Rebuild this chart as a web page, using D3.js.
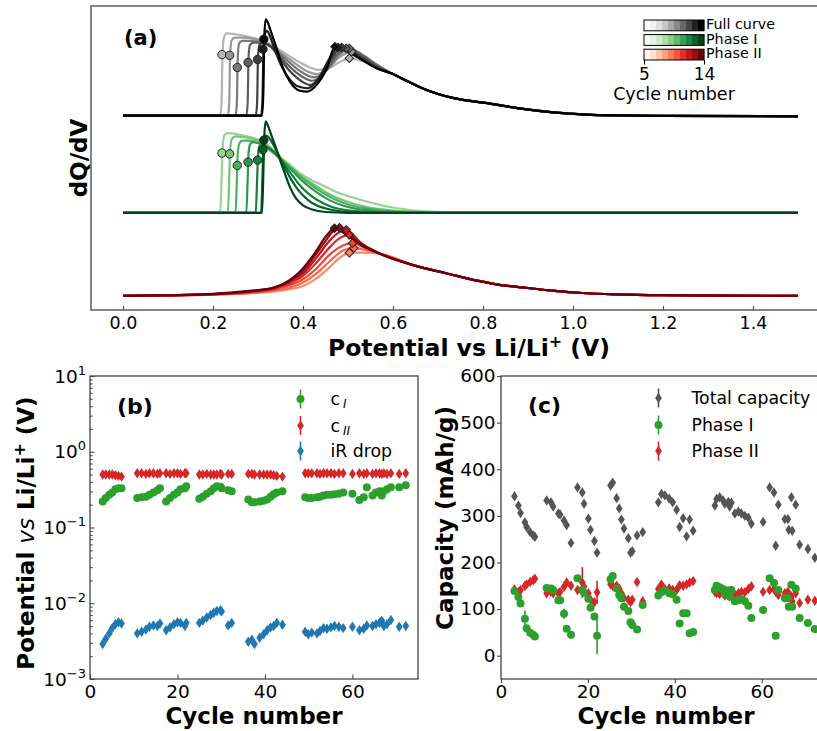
<!DOCTYPE html>
<html>
<head>
<meta charset="utf-8">
<script src="https://cdn.jsdelivr.net/npm/d3@7"></script>
<style>
  body { margin: 0; background: #fff; }
  svg { font-family: "DejaVu Sans", sans-serif; }
</style>
</head>
<body>
<div id="vis"></div>
<script>
// ---------- panel (a) : dQ/dV curves, 7 cycles (light = early, dark = late) ----------
var potentialTicks = [0, 0.2, 0.4, 0.6, 0.8, 1.0, 1.2, 1.4];
var cycleRange = [5, 14];
var colorbarNames = ["Full curve", "Phase I", "Phase II"];

// c_I onset potential of each curve and height of the circle marker
var onsetV = [0.219, 0.236, 0.253, 0.277, 0.298, 0.310, 0.312];
var onsetFullH = [0.735, 0.727, 0.58, 0.64, 0.675, 0.80, 0.92];
var onsetPhaseIH = [0.72, 0.71, 0.57, 0.61, 0.635, 0.76, 0.875];
// c_II peak of each curve (diamond markers)
var peakFullV = [0.503, 0.508, 0.503, 0.496, 0.486, 0.478, 0.471];
var peakFullH = [0.69, 0.77, 0.81, 0.81, 0.82, 0.82, 0.83];
var peakPhaseIIV = [0.503, 0.513, 0.510, 0.503, 0.496, 0.481, 0.470];
var peakPhaseIIH = [0.52, 0.575, 0.635, 0.735, 0.795, 0.82, 0.815];

var fullCurves = [
  [[0,0],[0.216,0],[0.219,0.15],[0.221,0.7],[0.224,0.93],[0.23,0.99],[0.25,0.98],[0.28,0.95],[0.30,0.92],[0.33,0.85],[0.36,0.75],[0.39,0.65],[0.415,0.58],[0.438,0.55],[0.46,0.58],[0.48,0.64],[0.503,0.69],[0.53,0.66],[0.56,0.60]],
  [[0,0],[0.233,0],[0.236,0.15],[0.238,0.7],[0.241,0.9],[0.248,0.94],[0.27,0.94],[0.30,0.91],[0.33,0.84],[0.36,0.72],[0.39,0.60],[0.41,0.53],[0.43,0.50],[0.455,0.56],[0.48,0.70],[0.508,0.77],[0.53,0.72],[0.56,0.62]],
  [[0,0],[0.25,0],[0.253,0.15],[0.255,0.7],[0.258,0.87],[0.265,0.90],[0.28,0.90],[0.30,0.89],[0.33,0.83],[0.36,0.69],[0.39,0.55],[0.425,0.46],[0.455,0.56],[0.48,0.73],[0.503,0.81],[0.53,0.74],[0.56,0.63]],
  [[0,0],[0.274,0],[0.277,0.15],[0.279,0.7],[0.282,0.85],[0.29,0.88],[0.30,0.88],[0.32,0.86],[0.34,0.78],[0.36,0.65],[0.39,0.50],[0.42,0.42],[0.45,0.53],[0.475,0.73],[0.496,0.81],[0.53,0.73],[0.56,0.62]],
  [[0,0],[0.295,0],[0.298,0.15],[0.300,0.7],[0.303,0.85],[0.31,0.88],[0.318,0.87],[0.33,0.82],[0.35,0.68],[0.37,0.54],[0.39,0.44],[0.415,0.37],[0.44,0.47],[0.465,0.70],[0.486,0.82],[0.52,0.74],[0.56,0.60]],
  [[0,0],[0.307,0],[0.310,0.2],[0.312,0.75],[0.315,0.98],[0.32,1.02],[0.327,0.95],[0.335,0.83],[0.35,0.62],[0.37,0.44],[0.39,0.35],[0.41,0.33],[0.435,0.45],[0.46,0.70],[0.478,0.82],[0.51,0.75],[0.56,0.58]],
  [[0,0],[0.309,0],[0.312,0.3],[0.314,0.95],[0.317,1.16],[0.322,1.12],[0.327,1.04],[0.342,0.80],[0.356,0.57],[0.371,0.41],[0.393,0.30],[0.408,0.29],[0.43,0.37],[0.453,0.57],[0.471,0.83],[0.49,0.79],[0.519,0.71],[0.564,0.57]]
];
var fullTail = [[0.60,0.50],[0.63,0.42],[0.665,0.33],[0.70,0.26],[0.735,0.21],[0.81,0.15],[0.88,0.088],[0.956,0.04],[1.03,0.012],[1.1,0.002],[1.2,-0.003],[1.5,-0.008]];

var phaseICurves = [
  [[0,0],[0.216,0],[0.219,0.4],[0.221,0.75],[0.225,0.93],[0.232,0.96],[0.26,0.94],[0.29,0.90],[0.31,0.86],[0.33,0.78],[0.349,0.67],[0.37,0.58],[0.39,0.49],[0.42,0.39],[0.445,0.33],[0.47,0.26],[0.52,0.17],[0.56,0.11],[0.593,0.07],[0.63,0.04],[0.667,0.02],[0.75,0.003],[0.8,0],[1.5,0]],
  [[0,0],[0.233,0],[0.236,0.4],[0.238,0.75],[0.242,0.89],[0.25,0.92],[0.27,0.91],[0.30,0.87],[0.32,0.80],[0.349,0.665],[0.37,0.57],[0.39,0.47],[0.41,0.39],[0.43,0.32],[0.46,0.22],[0.50,0.13],[0.55,0.06],[0.6,0.028],[0.66,0.01],[0.72,0],[1.5,0]],
  [[0,0],[0.25,0],[0.253,0.4],[0.255,0.72],[0.259,0.84],[0.265,0.87],[0.28,0.87],[0.30,0.84],[0.32,0.78],[0.349,0.655],[0.37,0.56],[0.39,0.46],[0.41,0.37],[0.43,0.29],[0.46,0.19],[0.50,0.10],[0.55,0.045],[0.6,0.018],[0.66,0.005],[0.7,0],[1.5,0]],
  [[0,0],[0.274,0],[0.277,0.4],[0.279,0.72],[0.283,0.83],[0.29,0.85],[0.30,0.84],[0.31,0.82],[0.33,0.75],[0.349,0.65],[0.37,0.54],[0.39,0.43],[0.41,0.33],[0.43,0.25],[0.46,0.15],[0.50,0.07],[0.55,0.028],[0.6,0.01],[0.65,0],[1.5,0]],
  [[0,0],[0.295,0],[0.298,0.4],[0.300,0.68],[0.303,0.8],[0.31,0.82],[0.32,0.80],[0.33,0.76],[0.34,0.71],[0.349,0.65],[0.36,0.57],[0.375,0.46],[0.39,0.35],[0.41,0.24],[0.43,0.16],[0.46,0.08],[0.5,0.03],[0.55,0.01],[0.6,0],[1.5,0]],
  [[0,0],[0.307,0],[0.310,0.45],[0.312,0.78],[0.316,0.93],[0.322,0.92],[0.33,0.86],[0.34,0.76],[0.349,0.66],[0.36,0.54],[0.375,0.39],[0.39,0.27],[0.41,0.16],[0.43,0.09],[0.46,0.04],[0.5,0.01],[0.55,0],[1.5,0]],
  [[0,0],[0.309,0],[0.312,0.5],[0.314,0.92],[0.317,1.10],[0.322,1.05],[0.33,0.93],[0.34,0.78],[0.349,0.635],[0.36,0.47],[0.371,0.31],[0.385,0.17],[0.40,0.09],[0.42,0.04],[0.45,0.01],[0.5,0],[1.5,0]]
];

var phaseIICurves = [
  [[0,0],[0.1,0.005],[0.2,0.015],[0.28,0.03],[0.33,0.05],[0.37,0.08],[0.40,0.12],[0.43,0.21],[0.46,0.35],[0.48,0.45],[0.503,0.52],[0.53,0.52]],
  [[0,0],[0.1,0.005],[0.2,0.015],[0.28,0.035],[0.33,0.06],[0.37,0.10],[0.40,0.16],[0.43,0.27],[0.46,0.42],[0.49,0.55],[0.513,0.575],[0.54,0.55]],
  [[0,0],[0.1,0.006],[0.2,0.018],[0.28,0.04],[0.33,0.07],[0.37,0.13],[0.40,0.20],[0.43,0.33],[0.46,0.50],[0.49,0.61],[0.510,0.635],[0.54,0.57]],
  [[0,0],[0.1,0.006],[0.2,0.02],[0.28,0.045],[0.33,0.08],[0.37,0.15],[0.40,0.24],[0.43,0.40],[0.46,0.59],[0.48,0.69],[0.503,0.735],[0.535,0.61]],
  [[0,0],[0.1,0.007],[0.2,0.02],[0.28,0.05],[0.33,0.09],[0.37,0.17],[0.40,0.27],[0.43,0.46],[0.46,0.67],[0.48,0.765],[0.496,0.795],[0.53,0.63]],
  [[0,0],[0.1,0.007],[0.2,0.022],[0.28,0.055],[0.33,0.09],[0.37,0.18],[0.40,0.30],[0.43,0.51],[0.45,0.66],[0.467,0.78],[0.481,0.82],[0.52,0.66]],
  [[0,0],[0.1,0.008],[0.2,0.025],[0.28,0.06],[0.33,0.09],[0.37,0.19],[0.393,0.29],[0.423,0.49],[0.453,0.73],[0.470,0.815],[0.50,0.72],[0.53,0.61]]
];
var phaseIITail = [[0.57,0.51],[0.645,0.37],[0.72,0.27],[0.79,0.18],[0.84,0.13],[0.90,0.095],[0.96,0.06],[1.02,0.035],[1.1,0.018],[1.2,0.008],[1.35,0.003],[1.5,0]];

// ---------- panel (b) : fitted parameters vs cycle ----------
var cyclesB = [2.9,3.6,4.4,5.1,5.8,6.5,7.2, 10.8,11.8,12.8,13.6,14.5,15.4,16.0, 17.4,18.3,19.2,20.0,20.7,21.7,22.0,
  25.0,25.8,26.7,27.6,28.3,29.0,29.8,30.1, 31.6,32.4, 36.2,37.0,37.6,38.8,39.7,40.5,41.3,42.0,42.7,44.0,
  49.2,49.9,50.7,51.9,52.6,53.4,54.2,55.1,55.9,56.9,57.9, 60.0,61.6,62.6,63.3,64.6,65.4,66.2,66.7,67.2,67.9,68.8,70.7,72.2];
var cI = [.22,.245,.27,.29,.32,.33,.33, .245,.25,.255,.27,.29,.31,.33, .22,.245,.27,.29,.32,.33,.35,
  .24,.255,.28,.30,.33,.35,.345,.33, .31,.30, .235,.215,.215,.22,.225,.235,.255,.275,.29,.30,
  .25,.245,.245,.25,.255,.265,.27,.27,.275,.28,.29, .28,.23,.25,.34,.265,.29,.30,.265,.30,.32,.34,.34,.36];
var cII = [.50,.50,.50,.50,.49,.48,.47, .52,.52,.51,.52,.52,.51,.52, .52,.51,.52,.52,.51,.52,.52,
  .50,.50,.51,.50,.50,.50,.51,.50, .51,.51, .51,.51,.50,.50,.50,.50,.50,.49,.48,.47,
  .52,.52,.52,.52,.51,.52,.52,.52,.51,.52,.52, .51,.52,.51,.52,.51,.52,.52,.51,.52,.51,.52,.51,.52];
var iRdrop = [.0029,.0034,.0040,.0047,.0053,.0056,.0054, .0040,.0042,.0045,.0049,.0051,.0050,.0054, .0044,.0048,.0053,.0056,.0055,.0050,.0055,
  .0055,.0059,.0065,.0070,.0075,.0079,.0081,.0078, .0051,.0055, .0031,.0033,.0029,.0035,.0039,.0044,.0048,.0050,.0055,.0052,
  .0042,.0039,.0041,.0040,.0043,.0047,.0046,.0048,.0050,.0049,.0047, .0049,.0044,.0046,.0051,.0050,.0053,.0055,.0059,.0050,.0053,.0060,.0049,.0050];
var logTicks = [1e-3, 1e-2, 1e-1, 1e0, 1e1];
var logTickExp = ["\u22123", "\u22122", "\u22121", "0", "1"];

// ---------- panel (c) : capacities vs cycle ----------
var cyclesC = [3.1,4.0,4.5,5.5,5.9,6.7,7.4,7.8, 10.5,11.5,12.0,13.2,13.6,14.5,15.1,16.1, 17.6,18.7,19.1,20.1,20.6,21.5,22.1,
  25.2,25.7,26.6,27.2,27.7,28.3,29.3,29.8,30.2, 31.3,32.6, 36.2,36.9,37.7,38.7,39.5,40.4,41.1,41.9,42.7,43.4,44.2,
  49.2,49.6,50.3,51.1,51.5,52.3,52.6,53.0,53.8,54.6,55.3,56.1,56.9,57.6, 60.3,61.8,62.8,63.2,63.8,65.3,66.0,66.2,66.8,67.0,67.8,68.7,70.6,72.2];
var totalCap = [342,322,306,286,276,265,258,255, 333,329,320,305,303,290,280,242, 361,350,326,294,270,246,221,
  365,371,338,316,292,273,252,221,224, 258,265, 329,347,344,337,329,313,276,295,256,292,268,
  322,336,340,333,326,330,320,328,305,309,305,300,296,283, 287,361,350,236,324,293,293,270,340,268,324,238,229,210];
var phaseICap = [139,126,112,79,59,49,45,41, 145,144,141,119,119,90,58,45, 166,141,135,122,103,84,43,
  164,171,144,130,123,105,96,72,66, 56,109, 129,136,140,134,132,120,69,91,91,48,51,
  141,150,147,143,133,140,127,141,117,119,121,117,107,81, 98,166,156,43,141,123,123,105,152,105,144,81,70,57];
var phaseIICap = [142,137,141,150,153,158,162,165, 134,137,134,134,137,148,157,150, 141,157,148,134,120,115,136,
  153,150,150,144,134,124,120,115,120, 158,117, 143,153,143,144,141,141,151,150,153,157,160,
  137,134,132,134,129,136,127,134,131,134,137,136,143,149, 137,141,143,137,130,134,137,127,127,117,134,113,120,118];
var phaseIErr = [3,3,4,18,3,3,3,3, 3,3,3,3,3,11,3,3, 3,3,3,3,3,3,40,
  3,3,3,3,3,3,3,3,3, 3,3, 3,3,3,3,3,3,3,3,3,3,3,
  3,3,3,3,3,3,3,3,3,3,3,3,3,3, 3,3,3,3,3,3,3,3,3,3,3,3,3,3];
var phaseIIErr = [3,3,3,3,3,3,3,3, 3,3,3,3,3,3,3,3, 3,33,3,3,3,3,25,
  3,3,3,3,3,3,3,3,3, 3,3, 3,3,3,3,3,3,3,3,3,3,3,
  3,3,3,3,3,3,3,3,3,3,3,3,3,3, 3,3,3,3,3,3,3,3,3,3,3,3,3,3];
var capTicks = [0, 100, 200, 300, 400, 500, 600];
var cycleTicks = [0, 20, 40, 60];

// ---------------------------------------------------------------
var W = 817, H = 731;
var spine = "#444";
var green = "#2ca02c", red = "#d62728", blue = "#1f77b4", grey = "#555555";

var svg = d3.select("#vis").append("svg").attr("width", W).attr("height", H);
svg.append("rect").attr("width", W).attr("height", H).attr("fill", "#fff");
var defs = svg.append("defs");

function clip(id, x, y, w, h) {
  defs.append("clipPath").attr("id", id).append("rect")
    .attr("x", x).attr("y", y).attr("width", w).attr("height", h);
  return "url(#" + id + ")";
}

function styleAxis(g, fs) {
  g.select(".domain").remove();
  g.selectAll(".tick line").attr("stroke", spine).attr("stroke-width", 1.1);
  g.selectAll(".tick text").attr("fill", "#000")
    .style("font-size", fs + "px").style("font-family", "DejaVu Sans");
}

function thinDiamond(s) {
  var w = s * 0.65;
  return "M0," + (-s) + "L" + w + ",0L0," + s + "L" + (-w) + ",0Z";
}

// =============== panel (a) ===============
var ax = d3.scaleLinear().domain([0, 1.5]).range([123, 798]);
var ay = d3.scaleLinear().domain([-0.17, 3.49]).range([310, 6]);
var offsets = [2.17, 1.0, 0];   // full, phase I, phase II
var schemes = [d3.interpolateGreys, d3.interpolateGreens, d3.interpolateReds];

var ga = svg.append("g");
var plotA = ga.append("g").attr("clip-path", clip("clipA", 91, 6, 741, 304));

function curveColor(s, i) { return schemes[s](0.4 + 0.6 * i / 6); }

var groups = [
  fullCurves.map(function(c) { return c.concat(fullTail); }),
  phaseICurves,
  phaseIICurves.map(function(c) { return c.concat(phaseIITail); })
];

groups.forEach(function(curves, s) {
  var line = d3.line()
    .x(function(d) { return ax(d[0]); })
    .y(function(d) { return ay(d[1] + offsets[s]); })
    .curve(d3.curveMonotoneX);
  plotA.append("g").selectAll("path").data(curves).enter().append("path")
    .attr("d", line)
    .attr("fill", "none")
    .attr("stroke", function(d, i) { return curveColor(s, i); })
    .attr("stroke-width", 2.2)
    .attr("stroke-linejoin", "round");
});

// circle markers (c_I) on full and phase I
[[onsetFullH, 0], [onsetPhaseIH, 1]].forEach(function(p) {
  plotA.append("g").selectAll("circle").data(onsetV).enter().append("circle")
    .attr("cx", function(d) { return ax(d + 0.001); })
    .attr("cy", function(d, i) { return ay(p[0][i] + offsets[p[1]]); })
    .attr("r", 4.2)
    .attr("fill", function(d, i) { return curveColor(p[1], i); })
    .attr("stroke", "#222").attr("stroke-width", 1);
});
// diamond markers (c_II) on full and phase II
[[peakFullV, peakFullH, 0], [peakPhaseIIV, peakPhaseIIH, 2]].forEach(function(p) {
  plotA.append("g").selectAll("path").data(p[0]).enter().append("path")
    .attr("d", d3.symbol().type(d3.symbolSquare).size(36))
    .attr("transform", function(d, i) {
      return "translate(" + ax(d) + "," + ay(p[1][i] + offsets[p[2]]) + ") rotate(45)";
    })
    .attr("fill", function(d, i) { return curveColor(p[2], i); })
    .attr("stroke", "#222").attr("stroke-width", 1);
});

ga.append("rect").attr("x", 91).attr("y", 6).attr("width", 741).attr("height", 304)
  .attr("fill", "none").attr("stroke", spine).attr("stroke-width", 1.3);

var axA = ga.append("g").attr("transform", "translate(0,310)")
  .call(d3.axisBottom(ax).tickValues(potentialTicks).tickFormat(d3.format(".1f"))
    .tickSizeInner(-4).tickSizeOuter(0).tickPadding(7));
styleAxis(axA, 17.5);

ga.append("text").attr("x", 124).attr("y", 45).attr("font-weight", "bold")
  .attr("font-size", 21).text("(a)");
ga.append("text").attr("transform", "translate(87,158) rotate(-90)")
  .attr("text-anchor", "middle").attr("font-weight", "bold").attr("font-size", 23)
  .text("dQ/dV");

var xlabA = ga.append("text").attr("x", 469).attr("y", 356).attr("text-anchor", "middle")
  .attr("font-weight", "bold").attr("font-size", 23.5);
xlabA.append("tspan").text("Potential vs Li/Li");
xlabA.append("tspan").attr("dy", -9).attr("font-size", 16).text("+");
xlabA.append("tspan").attr("dy", 9).text(" (V)");

// colorbars
var cbX = d3.scaleLinear().domain(cycleRange).range([644, 704]);
var cycleSteps = d3.range(cycleRange[0], cycleRange[1] + 1);
var cbY = [20, 34.6, 49.2], cbH = 10.8;
var bw = (cbX.range()[1] - cbX.range()[0]) / cycleSteps.length;
schemes.forEach(function(sc, s) {
  var g = ga.append("g");
  g.selectAll("rect").data(cycleSteps).enter().append("rect")
    .attr("x", function(d, k) { return cbX.range()[0] + k * bw; })
    .attr("y", cbY[s]).attr("width", bw + 0.3).attr("height", cbH)
    .attr("fill", function(d, k) { return sc(k / (cycleSteps.length - 1)); });
  g.append("rect").attr("x", cbX.range()[0]).attr("y", cbY[s])
    .attr("width", cbX.range()[1] - cbX.range()[0]).attr("height", cbH)
    .attr("fill", "none").attr("stroke", "#000").attr("stroke-width", 1);
  g.append("text").attr("x", 706).attr("y", cbY[s] + 9).attr("font-size", 14.3)
    .text(colorbarNames[s]);
});
var cbAxis = ga.append("g").attr("transform", "translate(0," + (cbY[2] + cbH) + ")")
  .call(d3.axisBottom(cbX).tickValues(cycleRange).tickFormat(d3.format("d"))
    .tickSizeInner(4.5).tickSizeOuter(0).tickPadding(3));
styleAxis(cbAxis, 17);
cbAxis.selectAll(".tick line").attr("stroke", "#000");
ga.append("text").attr("x", 674).attr("y", 100).attr("text-anchor", "middle")
  .attr("font-size", 17.5).text("Cycle number");

// =============== panel (b) ===============
var bx = d3.scaleLinear().domain([0, 75]).range([90, 418]);
var by = d3.scaleLog().domain([1e-3, 1e1]).range([679, 376]);
var gb = svg.append("g");
var plotB = gb.append("g").attr("clip-path", clip("clipB", 90, 376, 328, 303));

plotB.append("g").selectAll("circle").data(cyclesB).enter().append("circle")
  .attr("cx", function(d) { return bx(d); })
  .attr("cy", function(d, i) { return by(cI[i]); })
  .attr("r", 4).attr("fill", green);
plotB.append("g").selectAll("path").data(cyclesB).enter().append("path")
  .attr("d", thinDiamond(5.2))
  .attr("transform", function(d, i) { return "translate(" + bx(d) + "," + by(cII[i]) + ")"; })
  .attr("fill", red);
plotB.append("g").selectAll("path").data(cyclesB).enter().append("path")
  .attr("d", thinDiamond(5.2))
  .attr("transform", function(d, i) { return "translate(" + bx(d) + "," + by(iRdrop[i]) + ")"; })
  .attr("fill", blue);

gb.append("rect").attr("x", 90).attr("y", 376).attr("width", 328).attr("height", 303)
  .attr("fill", "none").attr("stroke", spine).attr("stroke-width", 1.3);

var axBx = gb.append("g").attr("transform", "translate(0,679)")
  .call(d3.axisBottom(bx).tickValues(cycleTicks).tickSizeInner(-4.5).tickSizeOuter(0).tickPadding(6));
styleAxis(axBx, 18.5);

var minorB = [];
logTicks.slice(0, -1).forEach(function(t) {
  for (var k = 2; k < 10; k++) minorB.push(t * k);
});
var axByMinor = gb.append("g").attr("transform", "translate(90,0)")
  .call(d3.axisLeft(by).tickValues(minorB).tickFormat("").tickSizeInner(-2.6).tickSizeOuter(0));
styleAxis(axByMinor, 10);
var axBy = gb.append("g").attr("transform", "translate(90,0)")
  .call(d3.axisLeft(by).tickValues(logTicks).tickFormat("").tickSizeInner(-4.5).tickSizeOuter(0));
styleAxis(axBy, 10);
logTicks.forEach(function(t, k) {
  var tx = gb.append("text").attr("x", 86).attr("y", by(t) + 6.5)
    .attr("text-anchor", "end").attr("font-size", 18.5);
  tx.append("tspan").text("10");
  tx.append("tspan").attr("dy", -8).attr("font-size", 13).text(logTickExp[k]);
});

gb.append("text").attr("x", 117).attr("y", 414).attr("font-weight", "bold")
  .attr("font-size", 22).text("(b)");
gb.append("text").attr("x", 254).attr("y", 724).attr("text-anchor", "middle")
  .attr("font-weight", "bold").attr("font-size", 23).text("Cycle number");
var ylabB = gb.append("text").attr("transform", "translate(34,533) rotate(-90)")
  .attr("text-anchor", "middle").attr("font-weight", "bold").attr("font-size", 23);
ylabB.append("tspan").text("Potential ");
ylabB.append("tspan").attr("font-style", "italic").attr("font-weight", "normal").text("vs");
ylabB.append("tspan").text(" Li/Li");
ylabB.append("tspan").attr("dy", -9).attr("font-size", 16).text("+");
ylabB.append("tspan").attr("dy", 9).text(" (V)");

// legend (b)
var legB = [
  {name: "c", sub: "I", color: green, shape: "circle", y: 399},
  {name: "c", sub: "II", color: red, shape: "diamond", y: 425.5},
  {name: "iR drop", sub: "", color: blue, shape: "diamond", y: 451}
];
legB.forEach(function(e) {
  var g = gb.append("g").attr("transform", "translate(300.5," + e.y + ")");
  g.append("line").attr("y1", -9.5).attr("y2", 9.5).attr("stroke", e.color).attr("stroke-width", 1.6);
  if (e.shape === "circle") g.append("circle").attr("r", 4).attr("fill", e.color);
  else g.append("path").attr("d", thinDiamond(5.2)).attr("fill", e.color);
  var t = g.append("text").attr("x", 30).attr("y", 6).attr("font-size", 17.3);
  t.append("tspan").text(e.name);
  if (e.sub) t.append("tspan").attr("dx", 3).attr("dy", 3).attr("font-size", 12)
    .attr("font-style", "italic").text(e.sub);
});

// =============== panel (c) ===============
var cx = d3.scaleLinear().domain([0, 75]).range([501, 827]);
var cy = d3.scaleLinear().domain([-50, 600]).range([679, 376]);
var gc = svg.append("g");
var plotC = gc.append("g").attr("clip-path", clip("clipC", 501, 376, 326, 303));

function errBars(vals, errs, color) {
  plotC.append("g").selectAll("line").data(cyclesC).enter().append("line")
    .attr("x1", function(d) { return cx(d); }).attr("x2", function(d) { return cx(d); })
    .attr("y1", function(d, i) { return cy(vals[i] - errs[i]); })
    .attr("y2", function(d, i) { return cy(vals[i] + errs[i]); })
    .attr("stroke", color).attr("stroke-width", 1.6);
}

plotC.append("g").selectAll("path").data(cyclesC).enter().append("path")
  .attr("d", thinDiamond(5.2))
  .attr("transform", function(d, i) { return "translate(" + cx(d) + "," + cy(totalCap[i]) + ")"; })
  .attr("fill", grey);
errBars(phaseIICap, phaseIIErr, red);
plotC.append("g").selectAll("path").data(cyclesC).enter().append("path")
  .attr("d", thinDiamond(5.2))
  .attr("transform", function(d, i) { return "translate(" + cx(d) + "," + cy(phaseIICap[i]) + ")"; })
  .attr("fill", red);
errBars(phaseICap, phaseIErr, green);
plotC.append("g").selectAll("circle").data(cyclesC).enter().append("circle")
  .attr("cx", function(d) { return cx(d); })
  .attr("cy", function(d, i) { return cy(phaseICap[i]); })
  .attr("r", 4).attr("fill", green);

gc.append("rect").attr("x", 501).attr("y", 376).attr("width", 326).attr("height", 303)
  .attr("fill", "none").attr("stroke", spine).attr("stroke-width", 1.3);

var axCx = gc.append("g").attr("transform", "translate(0,679)")
  .call(d3.axisBottom(cx).tickValues(cycleTicks).tickSizeInner(4).tickSizeOuter(0).tickPadding(2));
styleAxis(axCx, 18.5);
var axCy = gc.append("g").attr("transform", "translate(501,0)")
  .call(d3.axisLeft(cy).tickValues(capTicks).tickSizeInner(4).tickSizeOuter(0).tickPadding(1.5));
styleAxis(axCy, 18.5);

gc.append("text").attr("x", 528).attr("y", 413).attr("font-weight", "bold")
  .attr("font-size", 22).text("(c)");
gc.append("text").attr("x", 666).attr("y", 724).attr("text-anchor", "middle")
  .attr("font-weight", "bold").attr("font-size", 23).text("Cycle number");
gc.append("text").attr("transform", "translate(453,518) rotate(-90)")
  .attr("text-anchor", "middle").attr("font-weight", "bold").attr("font-size", 23)
  .text("Capacity (mAh/g)");

var legC = [
  {name: "Total capacity", color: grey, shape: "diamond", y: 398},
  {name: "Phase I", color: green, shape: "circle", y: 425},
  {name: "Phase II", color: red, shape: "diamond", y: 451}
];
legC.forEach(function(e) {
  var g = gc.append("g").attr("transform", "translate(658.5," + e.y + ")");
  g.append("line").attr("y1", -9.5).attr("y2", 9.5).attr("stroke", e.color).attr("stroke-width", 1.6);
  if (e.shape === "circle") g.append("circle").attr("r", 4).attr("fill", e.color);
  else g.append("path").attr("d", thinDiamond(5.2)).attr("fill", e.color);
  g.append("text").attr("x", 33).attr("y", 6).attr("font-size", 17.3).text(e.name);
});
</script>
</body>
</html>
